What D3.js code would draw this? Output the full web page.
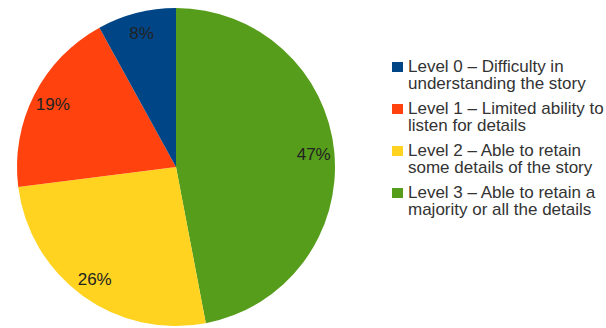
<!DOCTYPE html>
<meta charset="utf-8">
<script src="https://d3js.org/d3.v7.min.js"></script>
<style>
  body { margin: 0; background: #fff; }
  text { font-family: "Liberation Sans", Arial, sans-serif; }
</style>
<div id="chart"></div>
<script>
// chart data
var levels = ["Level 0", "Level 1", "Level 2", "Level 3"];
var shares = [8, 19, 26, 47];
var legendLines = [
  ["Level 0 \u2013 Difficulty in", "understanding the story"],
  ["Level 1 \u2013 Limited ability to", "listen for details"],
  ["Level 2 \u2013 Able to retain", "some details of the story"],
  ["Level 3 \u2013 Able to retain a", "majority or all the details"]
];
var colors = ["#004586", "#ff420e", "#ffd320", "#579d1c"];

var width = 606, height = 328;
var cx = 176, cy = 167, radius = 159;

var svg = d3.select("#chart").append("svg")
  .attr("width", width)
  .attr("height", height);

var color = d3.scaleOrdinal().domain(levels).range(colors);

// green slice starts at 12 o'clock going clockwise, then yellow, red, blue
var order = [3, 2, 1, 0];
var pie = d3.pie()
  .value(function(i) { return shares[i]; })
  .sort(null);
var arcs = pie(order);

var arc = d3.arc().innerRadius(0).outerRadius(radius);
var labelArc = d3.arc().innerRadius(radius * 0.87).outerRadius(radius * 0.87);

var g = svg.append("g").attr("transform", "translate(" + cx + "," + cy + ")");

g.selectAll("path")
  .data(arcs)
  .enter().append("path")
  .attr("d", arc)
  .attr("fill", function(d) { return color(levels[d.data]); });

g.selectAll("text.pct")
  .data(arcs)
  .enter().append("text")
  .attr("class", "pct")
  .attr("transform", function(d) { return "translate(" + labelArc.centroid(d) + ")"; })
  .attr("text-anchor", "middle")
  .attr("dy", "0.35em")
  .style("font-size", "17px")
  .attr("fill", "#222")
  .text(function(d) { return shares[d.data] + "%"; });

// legend
var legend = svg.append("g").attr("transform", "translate(392,0)");
var items = legend.selectAll("g")
  .data(levels)
  .enter().append("g")
  .attr("transform", function(d, i) { return "translate(0," + (72 + i * 42) + ")"; });

items.append("rect")
  .attr("x", 0)
  .attr("y", -10)
  .attr("width", 11)
  .attr("height", 10)
  .attr("fill", function(d) { return color(d); });

items.append("text")
  .attr("x", 16)
  .style("font-size", "17px")
  .attr("fill", "#333")
  .selectAll("tspan")
  .data(function(d, i) { return legendLines[i]; })
  .enter().append("tspan")
  .attr("x", 16)
  .attr("dy", function(d, j) { return j === 0 ? 0 : 16.5; })
  .text(function(d) { return d; });
</script>
